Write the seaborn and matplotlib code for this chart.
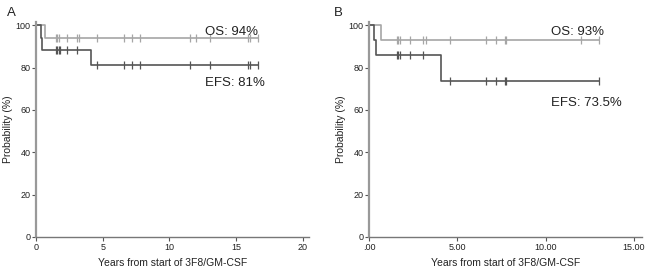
import numpy as np
import pandas as pd
import matplotlib
matplotlib.use("Agg")
import matplotlib.pyplot as plt
import seaborn as sns

# ---- data ----
a_os_t = [0, 0.67, 16.6]
a_os_s = [100, 94, 94]
a_efs_t = [0, 0.35, 0.42, 4.12, 16.6]
a_efs_s = [100, 94, 88.5, 81, 81]
a_os_cens = [1.5, 1.6, 1.7, 2.3, 3.05, 3.2, 4.6, 6.6, 7.2, 7.8, 11.5, 12.0, 13.0, 15.9, 16.0, 16.6]
a_efs_cens = [1.5, 1.6, 1.7, 1.8, 2.3, 3.05, 4.6, 6.6, 7.2, 7.8, 11.5, 13.0, 15.9, 16.0, 16.6]

b_os_t = [0, 0.68, 13.0]
b_os_s = [100, 93, 93]
b_efs_t = [0, 0.28, 0.38, 4.1, 13.0]
b_efs_s = [100, 93, 86, 73.5, 73.5]
b_os_cens = [1.57, 1.66, 1.75, 2.3, 3.08, 3.2, 4.58, 6.6, 7.2, 7.7, 7.75, 12.0, 13.0]
b_efs_cens = [1.57, 1.66, 1.75, 2.3, 3.05, 4.58, 6.6, 7.2, 7.7, 7.75, 13.0]

a_xticks = [0, 5, 10, 15, 20]
a_xticklabels = ["0", "5", "10", "15", "20"]
b_xticks = [0, 5, 10, 15]
b_xticklabels = [".00", "5.00", "10.00", "15.00"]
yticks = [0, 20, 40, 60, 80, 100]

OS_C = "#a6a6a6"
EFS_C = "#555555"

sns.set_style("white")
plt.rcParams["font.family"] = ["Liberation Sans", "DejaVu Sans"]

fig = plt.figure(figsize=(6.5, 2.73), dpi=100)


def step_val(t, s, x):
    idx = np.searchsorted(np.asarray(t), x, side="right") - 1
    return np.asarray(s)[idx]


def panel(ax, os_t, os_s, efs_t, efs_s, os_c, efs_c, xlim, xt, xtl, os_lab, efs_lab, os_xy, efs_xy, letter):
    for t, s, c, color in [(os_t, os_s, os_c, OS_C), (efs_t, efs_s, efs_c, EFS_C)]:
        df = pd.DataFrame({"t": t, "s": s})
        sns.lineplot(data=df, x="t", y="s", ax=ax, color=color, lw=1.2,
                     drawstyle="steps-post", sort=False, estimator=None)
        cdf = pd.DataFrame({"t": c, "s": step_val(t, s, np.asarray(c))})
        sns.scatterplot(data=cdf, x="t", y="s", ax=ax, marker="|", s=26,
                        color=color, linewidth=0.9)
    ax.set_xlim(*xlim)
    ax.set_ylim(0, 101.5)
    ax.set_xticks(xt)
    ax.set_xticklabels(xtl)
    ax.set_yticks(yticks)
    ax.set_xlabel("Years from start of 3F8/GM-CSF", fontsize=7.5, color="#222222", labelpad=5)
    ax.set_ylabel("Probability (%)", fontsize=7.5, color="#222222")
    ax.yaxis.set_label_coords(-0.085, 0.5)
    for sp in ["top", "right"]:
        ax.spines[sp].set_visible(False)
    ax.spines["left"].set_color("#999999")
    ax.spines["left"].set_linewidth(1.6)
    ax.spines["bottom"].set_color("#777777")
    ax.spines["bottom"].set_linewidth(1.0)
    ax.tick_params(axis="both", direction="out", length=3, width=0.8, color="#555555",
                   labelsize=6.5, labelcolor="#222222", pad=1, bottom=True, left=True)
    ax.text(os_xy[0], os_xy[1], os_lab, fontsize=9.5, color="#222222", transform=ax.transData)
    ax.text(efs_xy[0], efs_xy[1], efs_lab, fontsize=9.5, color="#222222", transform=ax.transData)
    fig.text(letter[1], letter[2], letter[0], fontsize=9.5, color="#222222")


axA = fig.add_axes([36 / 650, 36 / 273, 273 / 650, 215 / 273])
panel(axA, a_os_t, a_os_s, a_efs_t, a_efs_s, a_os_cens, a_efs_cens, (0, 20.45),
      a_xticks, a_xticklabels, "OS: 94%", "EFS: 81%", (12.65, 95.5), (12.65, 71.5),
      ("A", 7 / 650, 1 - 16 / 273))

axB = fig.add_axes([369 / 650, 36 / 273, 273 / 650, 215 / 273])
panel(axB, b_os_t, b_os_s, b_efs_t, b_efs_s, b_os_cens, b_efs_cens, (0, 15.45),
      b_xticks, b_xticklabels, "OS: 93%", "EFS: 73.5%", (10.3, 95.5), (10.3, 62.0),
      ("B", 334 / 650, 1 - 16 / 273))

fig.savefig("out.png", dpi=100, facecolor="white")
